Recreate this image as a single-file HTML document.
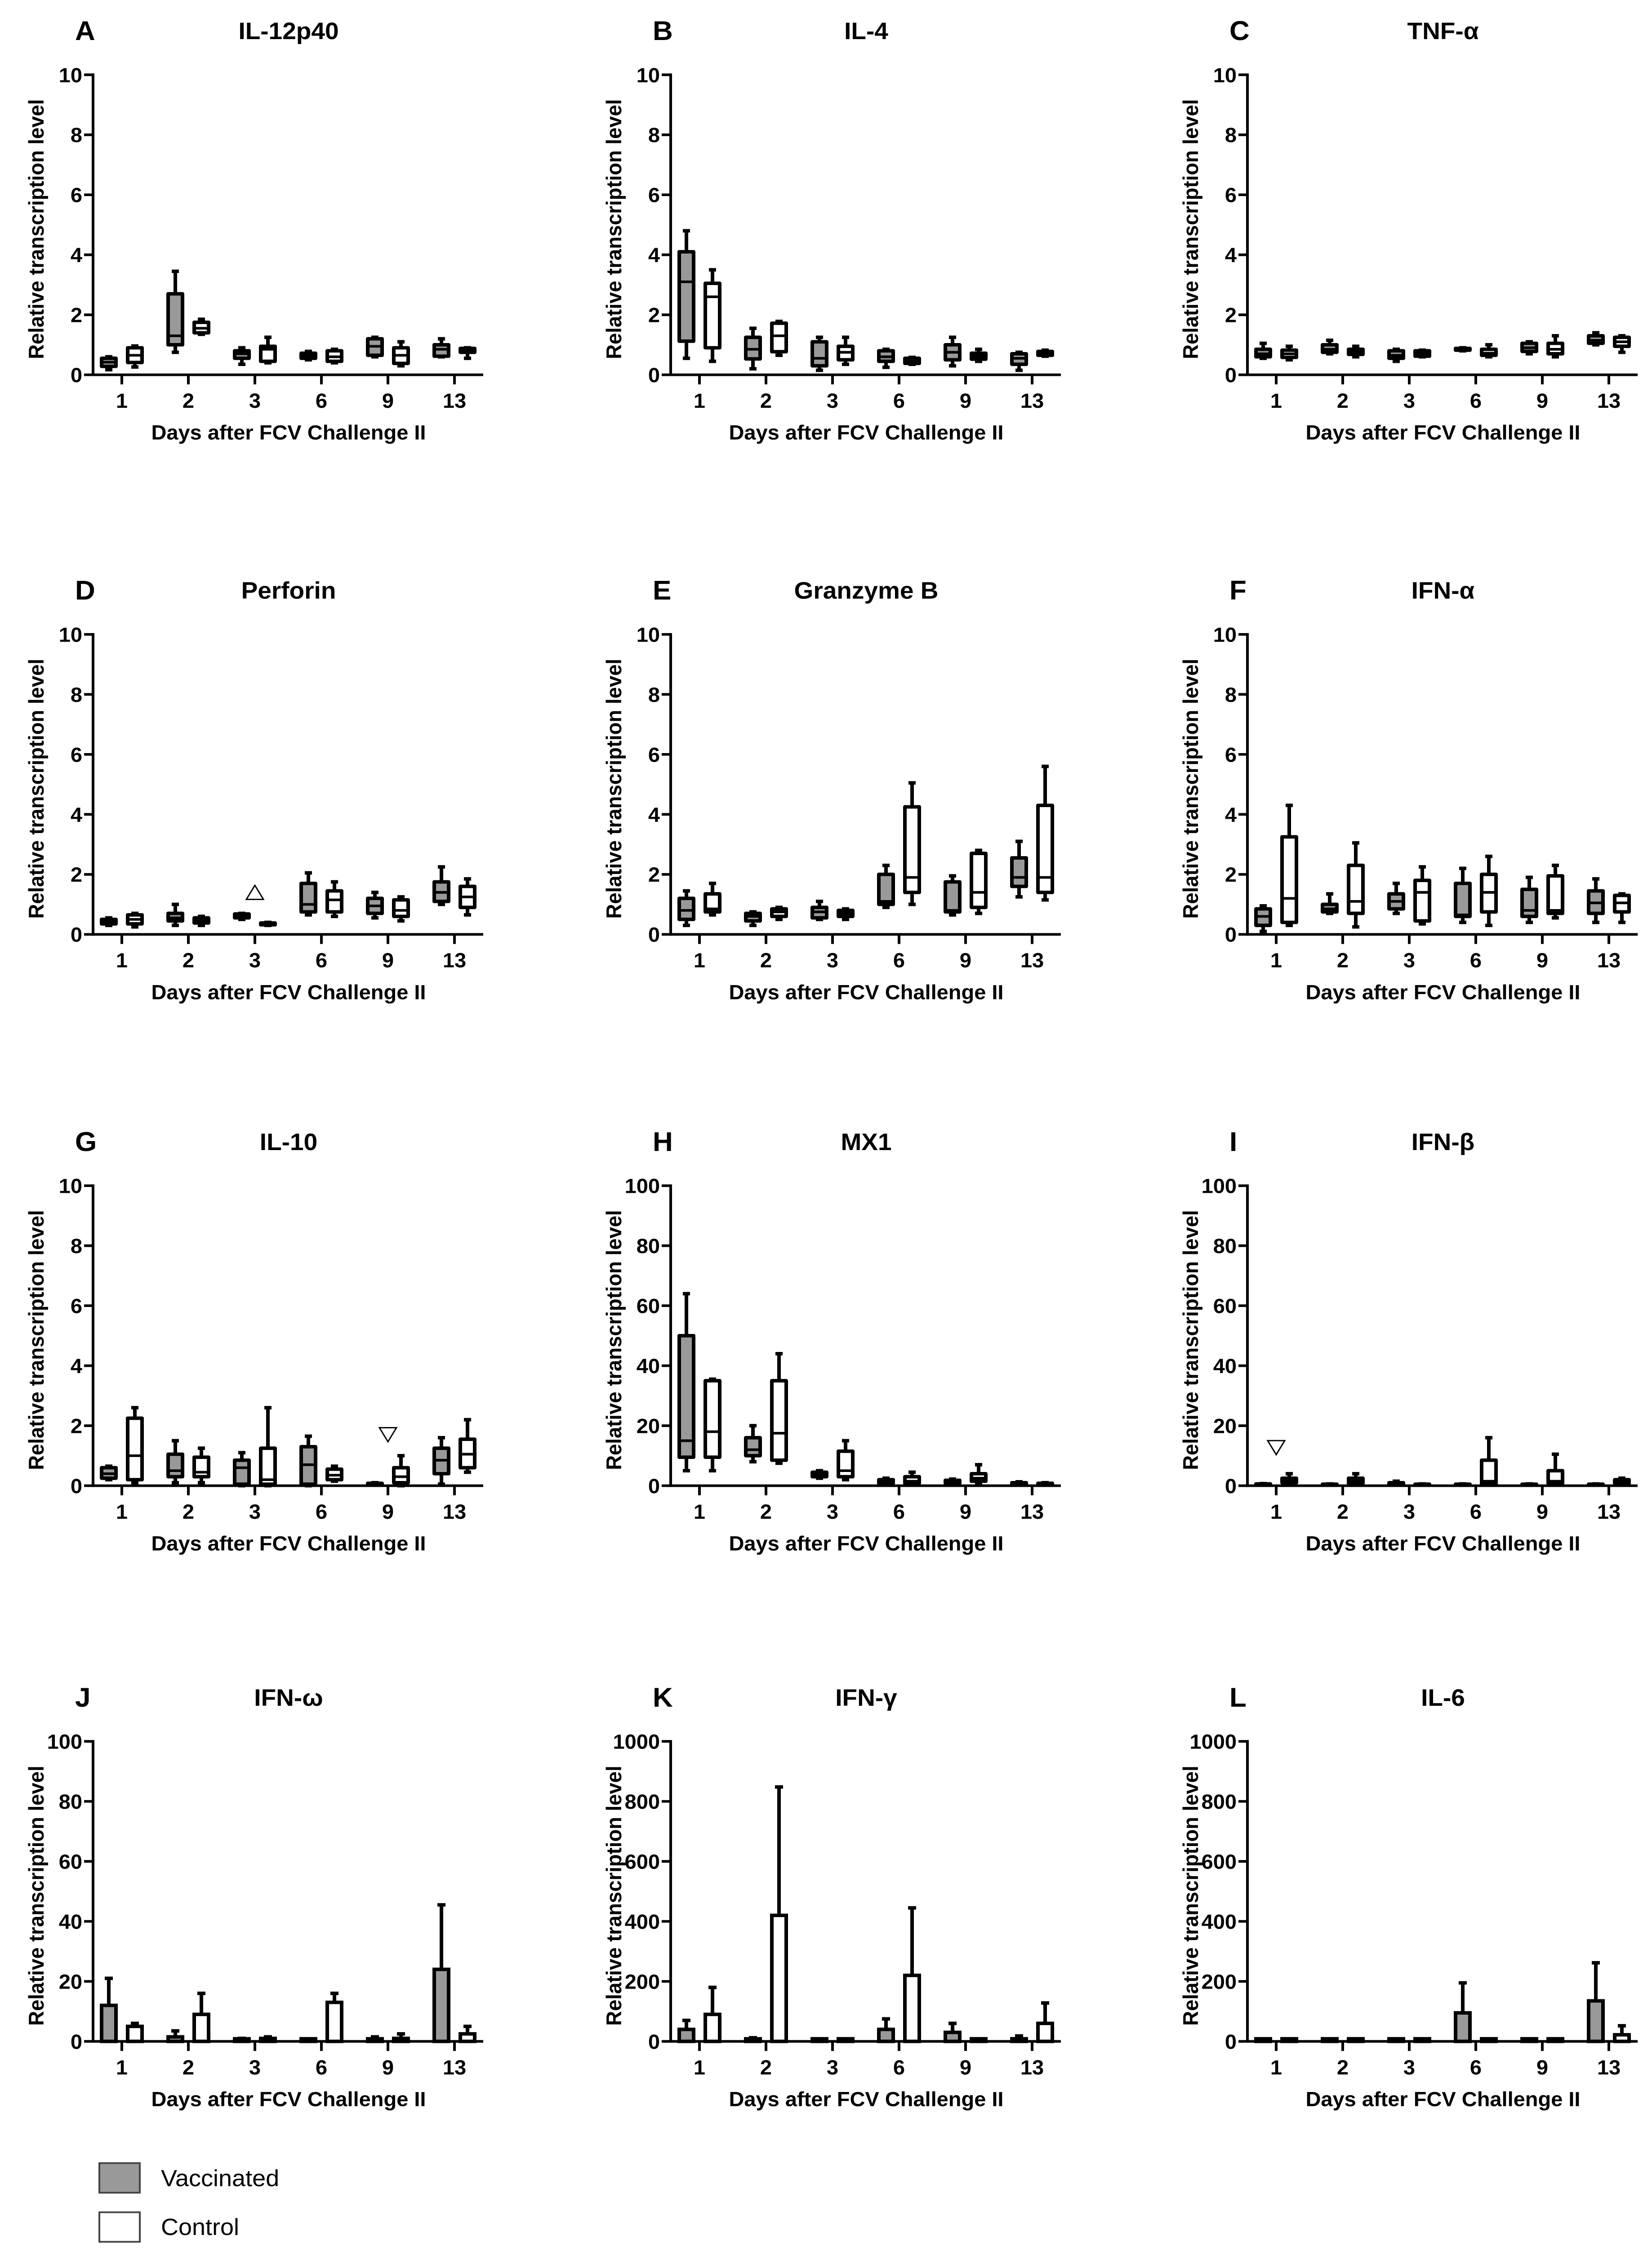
<!DOCTYPE html>
<html>
<head>
<meta charset="utf-8">
<style>
html,body{margin:0;padding:0;background:#fff;width:3675px;height:5170px;overflow:hidden;}
svg{display:block;}
text{font-family:"Liberation Sans",Arial,sans-serif;}
</style>
</head>
<body>
<svg id="fig" xmlns="http://www.w3.org/2000/svg" width="3675" height="5170" viewBox="0 0 3675 5346" preserveAspectRatio="none">
<rect x="0" y="0" width="3675" height="5346" fill="#fff"/>
</svg>
<script>
// ---- data ----
const days = ["1","2","3","6","9","13"];
const ticks10 = [0,2,4,6,8,10];
const ticks100 = [0,20,40,60,80,100];
const ticks1000 = [0,200,400,600,800,1000];

// box plots: [min, q1, median, q3, max]
const il12Vacc = [[0.17,0.28,0.42,0.55,0.6],[0.75,1.0,1.3,2.7,3.45],[0.35,0.55,0.7,0.8,0.9],[0.5,0.55,0.62,0.72,0.78],[0.6,0.65,0.95,1.2,1.25],[0.6,0.62,0.85,1.0,1.2]];
const il12Ctrl = [[0.26,0.41,0.65,0.9,0.96],[1.35,1.4,1.55,1.75,1.85],[0.4,0.45,0.85,0.95,1.25],[0.4,0.45,0.6,0.8,0.85],[0.3,0.38,0.65,0.9,1.1],[0.55,0.75,0.8,0.88,0.9]];
const il4Vacc = [[0.55,1.12,3.1,4.1,4.8],[0.2,0.53,0.85,1.25,1.55],[0.15,0.3,0.55,1.1,1.25],[0.25,0.45,0.6,0.8,0.85],[0.3,0.5,0.75,1.0,1.25],[0.15,0.35,0.55,0.7,0.75]];
const il4Ctrl = [[0.45,0.9,2.6,3.05,3.5],[0.65,0.77,1.3,1.72,1.78],[0.35,0.5,0.75,0.95,1.25],[0.35,0.38,0.45,0.55,0.58],[0.45,0.52,0.62,0.72,0.85],[0.62,0.65,0.72,0.78,0.82]];
const tnfVacc = [[0.55,0.6,0.7,0.85,1.05],[0.7,0.75,0.85,1.0,1.15],[0.45,0.55,0.65,0.8,0.85],[0.8,0.82,0.85,0.88,0.9],[0.7,0.78,0.9,1.05,1.1],[1.0,1.05,1.15,1.3,1.4]];
const tnfCtrl = [[0.5,0.58,0.7,0.82,0.95],[0.6,0.68,0.78,0.85,0.95],[0.6,0.62,0.7,0.8,0.82],[0.6,0.65,0.72,0.85,1.0],[0.6,0.7,0.85,1.05,1.3],[0.75,0.95,1.1,1.25,1.3]];
const perfVacc = [[0.3,0.35,0.45,0.5,0.55],[0.3,0.45,0.55,0.7,1.0],[0.5,0.55,0.6,0.68,0.7],[0.65,0.75,1.0,1.7,2.05],[0.55,0.7,0.95,1.2,1.4],[1.0,1.1,1.4,1.75,2.25]];
const perfCtrl = [[0.25,0.35,0.5,0.65,0.7],[0.3,0.38,0.45,0.55,0.6],[0.3,0.32,0.35,0.38,0.4],[0.6,0.75,1.15,1.45,1.75],[0.45,0.6,0.8,1.15,1.25],[0.65,0.9,1.25,1.6,1.85]];
const gzbVacc = [[0.3,0.5,0.8,1.2,1.45],[0.3,0.45,0.6,0.7,0.75],[0.5,0.55,0.75,0.9,1.1],[0.9,1.0,1.1,2.0,2.3],[0.65,0.75,0.8,1.75,1.95],[1.25,1.6,1.9,2.55,3.1]];
const gzbCtrl = [[0.65,0.75,0.85,1.35,1.7],[0.5,0.6,0.75,0.85,0.9],[0.5,0.6,0.7,0.8,0.85],[1.0,1.4,1.9,4.25,5.05],[0.7,0.9,1.4,2.7,2.8],[1.15,1.4,1.9,4.3,5.6]];
const ifnaVacc = [[0.1,0.3,0.6,0.85,0.95],[0.7,0.75,0.85,1.0,1.35],[0.7,0.85,1.1,1.35,1.7],[0.4,0.6,0.65,1.7,2.2],[0.4,0.6,0.8,1.5,1.9],[0.4,0.7,1.05,1.45,1.85]];
const ifnaCtrl = [[0.3,0.4,1.2,3.25,4.3],[0.25,0.7,1.1,2.3,3.05],[0.35,0.45,1.4,1.8,2.25],[0.3,0.75,1.4,2.0,2.6],[0.55,0.7,0.8,1.95,2.3],[0.4,0.75,1.05,1.3,1.35]];
const il10Vacc = [[0.2,0.25,0.4,0.6,0.65],[0.1,0.3,0.5,1.05,1.5],[0,0.05,0.6,0.85,1.1],[0,0.05,0.7,1.3,1.65],[0.02,0.03,0.05,0.08,0.1],[0.05,0.4,0.85,1.25,1.6]];
const il10Ctrl = [[0.1,0.2,1.0,2.25,2.6],[0.1,0.3,0.45,0.95,1.25],[0,0.05,0.2,1.25,2.6],[0.15,0.2,0.35,0.55,0.65],[0,0.1,0.3,0.6,1.0],[0.45,0.6,1.05,1.55,2.2]];
const mx1Vacc = [[5,9.5,15,50,64],[8,10,12,16,20],[2.5,3,3.5,4.5,5],[0.5,0.8,1.2,2,2.5],[0.5,0.8,1.2,1.8,2.2],[0.5,0.6,0.8,1,1.3]];
const mx1Ctrl = [[5,9.5,18,35,35.5],[7.5,8.5,17.5,35,44],[2,3,5,11.5,15],[0.5,0.8,1.5,3,4.5],[1,1.5,2.5,4,7],[0.4,0.5,0.6,0.8,1.0]];
const ifnbVacc = [[0.3,0.4,0.5,0.6,0.7],[0.2,0.3,0.4,0.5,0.6],[0.3,0.5,0.7,1,1.5],[0.2,0.3,0.4,0.5,0.6],[0.2,0.3,0.4,0.5,0.6],[0.2,0.3,0.4,0.5,0.6]];
const ifnbCtrl = [[0.5,1,1.5,2.5,4],[0.3,0.8,1.5,2.5,4],[0.2,0.3,0.4,0.5,0.6],[0.4,0.7,1.5,8.5,16],[0.5,0.8,1.5,5,10.5],[0.5,0.8,1.2,2,2.5]];

// bar charts: mean and error-bar top
const ifnwVacc = [12,1.5,0.5,0.5,0.5,24];
const ifnwVaccErr = [21,3.5,1,0.8,1.5,45.5];
const ifnwCtrl = [5,9,1,13,1,2.5];
const ifnwCtrlErr = [6,16,1.5,16,2.5,5];
const ifngVacc = [40,5,3,40,30,8];
const ifngVaccErr = [70,12,4,75,60,18];
const ifngCtrl = [90,420,4,220,5,60];
const ifngCtrlErr = [180,848,5,445,6,128];
const il6Vacc = [3,3,3,95,3,135];
const il6VaccErr = [5,5,5,195,5,262];
const il6Ctrl = [3,3,3,3,3,22];
const il6CtrlErr = [5,5,5,5,5,52];

// markers: [dayIndex, value, direction]
const perfMarker = [2, 1.4, "up"];
const il10Marker = [4, 1.7, "down"];
const ifnbMarker = [0, 12.7, "down"];

// ---- layout ----
const svg = document.getElementById('fig');
const NS = "http://www.w3.org/2000/svg";
const colX = [207, 1492, 2775];
const rowTop = [172, 1459, 2727, 4005];
const plotH = 690, axisLen = 868, firstTick = 64, tickStep = 148, boxW = 32, off = 29;
const GRAY = "#999";

function el(tag, attrs, parent) {
  const e = document.createElementNS(NS, tag);
  for (const k in attrs) e.setAttribute(k, attrs[k]);
  (parent || svg).appendChild(e);
  return e;
}

const panels = [
  {letter:"A", title:"IL-12p40", type:"box", ticks:ticks10, v:il12Vacc, c:il12Ctrl},
  {letter:"B", title:"IL-4", type:"box", ticks:ticks10, v:il4Vacc, c:il4Ctrl},
  {letter:"C", title:"TNF-α", type:"box", ticks:ticks10, v:tnfVacc, c:tnfCtrl},
  {letter:"D", title:"Perforin", type:"box", ticks:ticks10, v:perfVacc, c:perfCtrl, m:perfMarker},
  {letter:"E", title:"Granzyme B", type:"box", ticks:ticks10, v:gzbVacc, c:gzbCtrl},
  {letter:"F", title:"IFN-α", type:"box", ticks:ticks10, v:ifnaVacc, c:ifnaCtrl},
  {letter:"G", title:"IL-10", type:"box", ticks:ticks10, v:il10Vacc, c:il10Ctrl, m:il10Marker},
  {letter:"H", title:"MX1", type:"box", ticks:ticks100, v:mx1Vacc, c:mx1Ctrl},
  {letter:"I", title:"IFN-β", type:"box", ticks:ticks100, v:ifnbVacc, c:ifnbCtrl, m:ifnbMarker},
  {letter:"J", title:"IFN-ω", type:"bar", ticks:ticks100, v:ifnwVacc, ve:ifnwVaccErr, c:ifnwCtrl, ce:ifnwCtrlErr},
  {letter:"K", title:"IFN-γ", type:"bar", ticks:ticks1000, v:ifngVacc, ve:ifngVaccErr, c:ifngCtrl, ce:ifngCtrlErr},
  {letter:"L", title:"IL-6", type:"bar", ticks:ticks1000, v:il6Vacc, ve:il6VaccErr, c:il6Ctrl, ce:il6CtrlErr}
];

function drawBox(g, cx, d, yS, fill) {
  const yMin=yS(d[0]), yQ1=yS(d[1]), yMed=yS(d[2]), yQ3=yS(d[3]), yMax=yS(d[4]);
  const w = el('line',{x1:cx,y1:yQ3,x2:cx,y2:yMax,stroke:"#000","stroke-width":8},g);
   
  const w2 = el('line',{x1:cx,y1:yQ1,x2:cx,y2:yMin,stroke:"#000","stroke-width":8},g);
   
  el('line',{x1:cx-8,y1:yMax,x2:cx+8,y2:yMax,stroke:"#000","stroke-width":8},g);
  el('line',{x1:cx-8,y1:yMin,x2:cx+8,y2:yMin,stroke:"#000","stroke-width":8},g);
  const h = Math.max(yQ1-yQ3, 2);
  const r = el('rect',{x:cx-boxW/2,y:yQ3,width:boxW,height:h,fill:fill,stroke:"#000","stroke-width":8,"stroke-linejoin":"round"},g);
   
  const m = el('line',{x1:cx-boxW/2,y1:yMed,x2:cx+boxW/2,y2:yMed,stroke:"#000","stroke-width":6},g);
   
}

function drawBar(g, cx, val, err, yS, y0, fill) {
  const yE = yS(err), yV = yS(val);
  const e = el('line',{x1:cx,y1:yV,x2:cx,y2:yE,stroke:"#000","stroke-width":8},g);
   
  el('line',{x1:cx-9,y1:yE,x2:cx+9,y2:yE,stroke:"#000","stroke-width":8},g);
  const h = Math.max(y0-yV, 6);
  const r = el('rect',{x:cx-boxW/2,y:y0-h,width:boxW,height:h,fill:fill,stroke:"#000","stroke-width":8},g);
   
}

panels.forEach((p, i) => {
  const ax = colX[i % 3], top = rowTop[Math.floor(i / 3)], y0 = top + plotH;
  const maxV = p.ticks[p.ticks.length - 1];
  const yS = v => y0 - (v / maxV) * plotH;
  const xS = k => ax + firstTick + k * tickStep;
  const g = el('g', {});
  
  

  const L = el('text',{x:ax-40,y:top-80,"font-size":62,"font-weight":"bold"},g);
  L.textContent = p.letter;
   
  const T = el('text',{x:ax+435,y:top-82,"font-size":55,"font-weight":"bold","text-anchor":"middle"},g);
  T.textContent = p.title;
   

  const yt = el('text',{x:0,y:0,"font-size":47,"font-weight":"bold","text-anchor":"middle",transform:`translate(${ax-110},${top+plotH/2+10}) rotate(-90)`},g);
  yt.textContent = "Relative transcription level";
   
  const xt = el('text',{x:ax+435,y:y0+149,"font-size":47,"font-weight":"bold","text-anchor":"middle"},g);
  xt.textContent = "Days after FCV Challenge II";
   

  const yAx = el('line',{x1:ax,y1:top-3,x2:ax,y2:y0+3,stroke:"#000","stroke-width":6},g);
   
  const xAx = el('line',{x1:ax-3,y1:y0,x2:ax+axisLen,y2:y0,stroke:"#000","stroke-width":6},g);
   

  p.ticks.forEach(t => {
    const y = yS(t);
    el('line',{x1:ax-20,y1:y,x2:ax,y2:y,stroke:"#000","stroke-width":6},g);
    const tl = el('text',{x:ax-24,y:y+17,"font-size":47,"font-weight":"bold","text-anchor":"end"},g);
    tl.textContent = String(t);
     
  });
  days.forEach((d, k) => {
    const x = xS(k);
    el('line',{x1:x,y1:y0,x2:x,y2:y0+22,stroke:"#000","stroke-width":6},g);
    const tl = el('text',{x:x,y:y0+76,"font-size":47,"font-weight":"bold","text-anchor":"middle"},g);
    tl.textContent = d;
     
  });

  days.forEach((d, k) => {
    const cx = xS(k);
    if (p.type === "box") {
      drawBox(g, cx - off, p.v[k], yS, GRAY);
      drawBox(g, cx + off, p.c[k], yS, "#fff");
    } else {
      drawBar(g, cx - off, p.v[k], p.ve[k], yS, y0, GRAY);
      drawBar(g, cx + off, p.c[k], p.ce[k], yS, y0, "#fff");
    }
  });

  if (p.m) {
    const mx = xS(p.m[0]), my = yS(p.m[1]), s = 19;
    const pts = p.m[2] === "up"
      ? `${mx-s},${my+s*0.85} ${mx+s},${my+s*0.85} ${mx},${my-s*0.85}`
      : `${mx-s},${my-s*0.85} ${mx+s},${my-s*0.85} ${mx},${my+s*0.85}`;
    const tri = el('polygon',{points:pts,fill:"none",stroke:"#000","stroke-width":3},g);
     
  }
});

// legend
const lg = el('g', {});


const r1 = el('rect',{x:221,y:4975,width:90,height:68,fill:GRAY,stroke:"#444","stroke-width":4},lg);
 
const t1 = el('text',{x:358,y:5028,"font-size":54},lg);
t1.textContent = "Vaccinated";
 
const r2 = el('rect',{x:221,y:5088,width:90,height:68,fill:"#fff",stroke:"#444","stroke-width":4},lg);
 
const t2 = el('text',{x:358,y:5140,"font-size":54},lg);
t2.textContent = "Control";
 
</script>
</body>
</html>
